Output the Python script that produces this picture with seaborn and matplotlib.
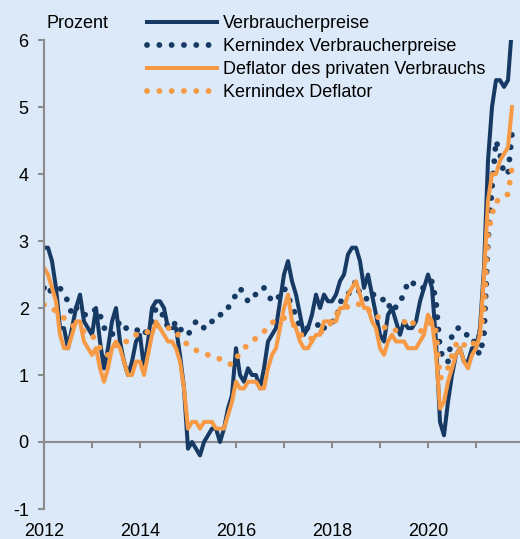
import numpy as np
import pandas as pd
import matplotlib
matplotlib.use("Agg")
import matplotlib.pyplot as plt
import seaborn as sns

# Monthly year-on-year rates, Jan 2012 - Oct 2021 (percent)
cpi = [
    2.9, 2.9, 2.7, 2.3, 1.7, 1.7, 1.4, 1.7, 2.0, 2.2, 1.8, 1.7,
    1.6, 2.0, 1.5, 1.1, 1.4, 1.8, 2.0, 1.5, 1.2, 1.0, 1.2, 1.5,
    1.6, 1.1, 1.5, 2.0, 2.1, 2.1, 2.0, 1.7, 1.7, 1.7, 1.3, 0.8,
    -0.1, 0.0, -0.1, -0.2, 0.0, 0.1, 0.2, 0.2, 0.0, 0.2, 0.5, 0.7,
    1.4, 1.0, 0.9, 1.1, 1.0, 1.0, 0.8, 1.1, 1.5, 1.6, 1.7, 2.1,
    2.5, 2.7, 2.4, 2.2, 1.9, 1.6, 1.7, 1.9, 2.2, 2.0, 2.2, 2.1,
    2.1, 2.2, 2.4, 2.5, 2.8, 2.9, 2.9, 2.7, 2.3, 2.5, 2.2, 1.9,
    1.6, 1.5, 1.9, 2.0, 1.8, 1.6, 1.8, 1.7, 1.7, 1.8, 2.1, 2.3,
    2.5, 2.3, 1.5, 0.3, 0.1, 0.6, 1.0, 1.3, 1.4, 1.2, 1.2, 1.4,
    1.4, 1.7, 2.6, 4.2, 5.0, 5.4, 5.4, 5.3, 5.4, 6.2,
]
core_cpi = [
    2.3, 2.2, 2.3, 2.3, 2.3, 2.2, 2.1, 1.9, 2.0, 2.0, 1.9, 1.9,
    1.9, 2.0, 1.9, 1.7, 1.7, 1.6, 1.7, 1.8, 1.7, 1.7, 1.7, 1.7,
    1.6, 1.6, 1.7, 1.8, 2.0, 1.9, 1.9, 1.7, 1.7, 1.8, 1.7, 1.6,
    1.6, 1.7, 1.8, 1.8, 1.7, 1.8, 1.8, 1.8, 1.9, 1.9, 2.0, 2.1,
    2.2, 2.3, 2.2, 2.1, 2.2, 2.2, 2.2, 2.3, 2.2, 2.1, 2.1, 2.2,
    2.3, 2.2, 2.0, 1.9, 1.7, 1.7, 1.7, 1.7, 1.7, 1.8, 1.7, 1.8,
    1.8, 1.8, 2.1, 2.1, 2.2, 2.3, 2.4, 2.2, 2.2, 2.1, 2.2, 2.2,
    2.2, 2.1, 2.0, 2.1, 2.0, 2.1, 2.2, 2.4, 2.4, 2.3, 2.3, 2.3,
    2.3, 2.4, 2.1, 1.4, 1.2, 1.2, 1.6, 1.7, 1.7, 1.6, 1.6, 1.6,
    1.4, 1.3, 1.6, 3.0, 3.8, 4.5, 4.3, 4.0, 4.0, 4.6,
]
pce = [
    2.6, 2.5, 2.3, 2.1, 1.6, 1.4, 1.4, 1.6, 1.8, 1.8, 1.5, 1.4,
    1.3, 1.4, 1.1, 0.9, 1.1, 1.4, 1.5, 1.4, 1.2, 1.0, 1.0, 1.2,
    1.2, 1.0, 1.3, 1.6, 1.8, 1.7, 1.6, 1.5, 1.5, 1.4, 1.2, 0.8,
    0.2, 0.3, 0.3, 0.2, 0.3, 0.3, 0.3, 0.2, 0.2, 0.2, 0.4, 0.6,
    0.9, 0.8, 0.8, 0.9, 0.9, 0.9, 0.8, 0.8, 1.1, 1.3, 1.4, 1.7,
    2.0, 2.2, 1.8, 1.7, 1.5, 1.4, 1.4, 1.5, 1.6, 1.6, 1.8, 1.8,
    1.8, 1.8, 2.0, 2.0, 2.2, 2.3, 2.4, 2.2, 2.0, 2.0, 1.8, 1.7,
    1.4, 1.3, 1.5, 1.6, 1.5, 1.5, 1.5, 1.4, 1.4, 1.4, 1.5, 1.6,
    1.9, 1.8, 1.3, 0.5, 0.6, 0.9, 1.1, 1.3, 1.4, 1.2, 1.1, 1.3,
    1.4, 1.6, 2.5, 3.6, 4.0, 4.0, 4.2, 4.3, 4.4, 5.0,
]
core_pce = [
    2.05, 2.05, 2.0, 1.95, 1.9, 1.85, 1.8, 1.75, 1.7, 1.7, 1.65, 1.6,
    1.6, 1.5, 1.4, 1.3, 1.3, 1.4, 1.45, 1.5, 1.5, 1.5, 1.55, 1.6,
    1.6, 1.6, 1.65, 1.7, 1.72, 1.75, 1.75, 1.7, 1.7, 1.65, 1.55, 1.5,
    1.45, 1.4, 1.37, 1.35, 1.33, 1.3, 1.27, 1.25, 1.24, 1.22, 1.18, 1.15,
    1.25, 1.32, 1.4, 1.45, 1.5, 1.55, 1.6, 1.65, 1.7, 1.78, 1.82, 1.85,
    1.85, 1.83, 1.78, 1.7, 1.62, 1.55, 1.52, 1.55, 1.6, 1.63, 1.68, 1.72,
    1.8, 1.9, 1.97, 2.0, 2.02, 2.05, 2.07, 2.05, 2.03, 1.97, 1.94, 1.93,
    1.8, 1.72, 1.67, 1.65, 1.67, 1.72, 1.78, 1.85, 1.8, 1.7, 1.65, 1.68,
    1.72, 1.8, 1.65, 0.95, 1.0, 1.1, 1.3, 1.45, 1.52, 1.45, 1.4, 1.45,
    1.5, 1.6, 2.0, 3.1, 3.4, 3.6, 3.6, 3.65, 3.7, 4.1,
]
labels = [
    "Verbraucherpreise",
    "Kernindex Verbraucherpreise",
    "Deflator des privaten Verbrauchs",
    "Kernindex Deflator",
]
year_ticks = list(range(2012, 2022))
year_labels = [str(y) if y % 2 == 0 else "" for y in year_ticks]

navy = "#173a64"
orange = "#f79a46"
bg = "#dce9f8"
grey = "#8c8c8c"

t = 2012 + np.arange(len(cpi)) / 12
df = pd.DataFrame({"t": t, labels[0]: cpi, labels[1]: core_cpi,
                   labels[2]: pce, labels[3]: core_pce})

plt.rcParams["font.family"] = ["Liberation Sans", "DejaVu Sans"]
plt.rcParams["axes.unicode_minus"] = False

fig = plt.figure(figsize=(5.2, 5.39), dpi=100, facecolor=bg)
ax = fig.add_axes([44 / 520, 30 / 539, 476 / 520, 469 / 539])
ax.set_facecolor(bg)

styles = [
    (navy, "solid", 2.9),
    (navy, "dot", 4.2),
    (orange, "solid", 2.9),
    (orange, "dot", 4.2),
]
for name, (col, ls, lw) in zip(labels, styles):
    sns.lineplot(data=df, x="t", y=name, ax=ax, color=col,
                 linewidth=lw, label=name)
    line = ax.lines[-1]
    if ls == "dot":
        line.set_linestyle((0, (0.01, 2.1)))
        line.set_dash_capstyle("round")

ax.set_xlim(2012, 2012 + 476 / 48)
ax.set_ylim(-1, 6)
ax.set_xlabel("")
ax.set_ylabel("")

for s in ["top", "right"]:
    ax.spines[s].set_visible(False)
ax.spines["left"].set_color(grey)
ax.spines["left"].set_linewidth(1.5)
ax.spines["bottom"].set_position(("data", 0))
ax.spines["bottom"].set_color(grey)
ax.spines["bottom"].set_linewidth(1.5)
ax.spines["bottom"].set_zorder(0.5)

ax.set_yticks(range(-1, 7))
ax.set_xticks(year_ticks)
ax.set_xticklabels(year_labels)
ax.tick_params(axis="y", length=4, width=1.5, color=grey, pad=7, labelsize=13)
ax.tick_params(axis="x", length=4, width=1.5, color=grey, pad=54, labelsize=13)

fig.text(46 / 520, 1 - 24 / 539, "Prozent", fontsize=13, va="center", ha="left")

ax.legend(loc="upper left", bbox_to_anchor=(147 / 520, 1 - 15 / 539),
          bbox_transform=fig.transFigure, frameon=False, fontsize=13,
          handlelength=3.9, handletextpad=0.33, labelspacing=0.34,
          borderpad=0, borderaxespad=0)

fig.savefig("out.png", dpi=100, facecolor=bg)
